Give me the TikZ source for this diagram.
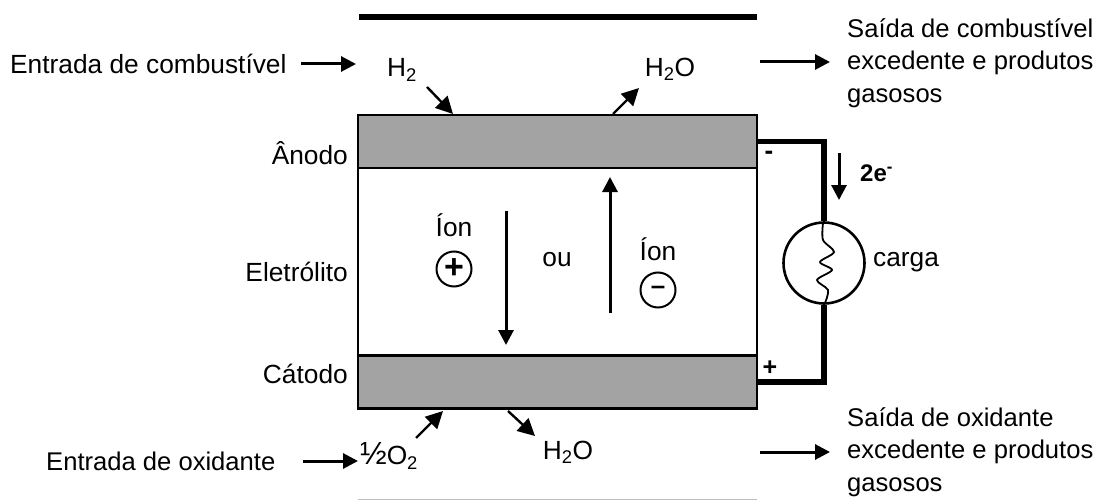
\documentclass[tikz,border=0pt]{standalone}
\usepackage{fontspec}
\setmainfont{Liberation Sans}
\usetikzlibrary{arrows.meta}
\colorlet{electrodecolor}{black!36}
\tikzset{
    label text/.style = {inner sep=0pt, font=\fontsize{26.3}{32}\selectfont},
    outlet text/.style = {inner sep=0pt, anchor=west, align=left, font=\fontsize{25.6}{32.5}\selectfont},
    bold text/.style = {inner sep=0pt, font=\fontsize{#1}{30}\selectfont\bfseries},
    flow/.style = {-{Triangle[length=15pt, width=15pt]}, line width=3pt},
    small flow/.style = {-{Triangle[length=17pt, width=17pt]}, line width=2.4pt},
    electrode/.style = {rectangle, draw, line width=2.2pt, fill=electrodecolor, minimum width=399, minimum height=53},
    wire/.style = {line width=5.5pt, line join=miter},
    ion/.style = {circle, draw, line width=2pt, minimum size=35, inner sep=0pt}
}

\begin{document}
\begin{tikzpicture}[x=1pt, y=-1pt]
        \useasboundingbox (0, 0) rectangle (1100, 500);
        % draw cell body
        \node[rectangle, draw, line width=2.2pt, minimum width=399, minimum height=293] (electrolyte) at (557.5, 262) {};
        \node[electrode] (anode) at (557.5, 141.5) {};
        \node[electrode] (cathode) at (557.5, 382) {};
        % draw plates above and below
        \coordinate (top a) at (359, 17);
        \coordinate (top b) at (757, 17);
        \coordinate (bottom a) at (358, 499);
        \coordinate (bottom b) at (757, 499);
        \draw[line width=5.5pt] (top a) -- (top b);
        \draw[black!25, line width=1pt] (bottom a) -- (bottom b);
        % draw left labels
        \foreach \y/\name/\ltext in {153/anodelabel/Ânodo, 272/electrolytelabel/Eletrólito, 374/cathodelabel/Cátodo}
            \node[label text, anchor=east] (\name) at (348, \y) {\ltext};
        % draw gas labels
        \node[label text, anchor=west] (fuelin) at (10, 64) {Entrada de combustível};
        \node[label text, anchor=west, font=\fontsize{25.6}{32}\selectfont] (oxin) at (46, 461) {Entrada de oxidante};
        \node[label text] (h2) at (402, 70) {H\textsubscript{2}};
        \node[label text] (h2o top) at (670, 69) {H\textsubscript{2}O};
        \node[label text] (h2o bottom) at (568, 452) {H\textsubscript{2}O};
        \node[label text] (o2) at (389, 456) {{\fontsize{32}{32}\selectfont ½}O\textsubscript{2}};
        % draw outlet labels
        \node[outlet text] (fuelout) at (847, 63)
            {Saída de combustível\\excedente e produtos\\gasosos};
        \node[outlet text] (oxout) at (847, 452)
            {Saída de oxidante\\excedente e produtos\\gasosos};
        % draw gas arrows
        \coordinate (fuel a) at (301, 64);
        \coordinate (fuel b) at (356, 64);
        \coordinate (ox a) at (303, 461);
        \coordinate (ox b) at (358, 461);
        \coordinate (fuelout a) at (760, 62);
        \coordinate (fuelout b) at (830, 62);
        \coordinate (oxout a) at (760, 452);
        \coordinate (oxout b) at (830, 452);
        \foreach \a/\b in {fuel a/fuel b, ox a/ox b, fuelout a/fuelout b, oxout a/oxout b}
            \draw[flow] (\a) -- (\b);
        \coordinate (h2 a) at (427, 87);
        \coordinate (h2 b) at (453, 114);
        \coordinate (h2o a) at (613, 114);
        \coordinate (h2o b) at (639, 88);
        \coordinate (o2 a) at (416, 438);
        \coordinate (o2 b) at (443, 411);
        \coordinate (water a) at (508, 411);
        \coordinate (water b) at (535, 436);
        \foreach \a/\b in {h2 a/h2 b, h2o a/h2o b, o2 a/o2 b, water a/water b}
            \draw[small flow] (\a) -- (\b);
        % draw ions
        \node[label text] (ion plus text) at (454, 225) {Íon};
        \node[ion, bold text=34] (ion plus) at (454, 269) {+};
        \node[label text] (ion minus text) at (658, 249) {Íon};
        \node[ion, bold text=26] (ion minus) at (658, 290) {--};
        \node[label text] (or) at (557, 260) {ou};
        \coordinate (down a) at (506, 211);
        \coordinate (down b) at (506, 345);
        \coordinate (up a) at (610, 313);
        \coordinate (up b) at (610, 177);
        \draw[flow] (down a) -- (down b);
        \draw[flow] (up a) -- (up b);
        % draw load and wires
        \node[circle, draw, line width=2.6pt, minimum size=81, inner sep=0pt] (load) at (824, 263) {};
        \draw[wire] (anode.east) -| (load.north);
        \draw[wire] (load.south) |- (cathode.east);
        \draw[line width=1.8pt] plot[smooth] coordinates {(823, 223) (823, 240) (834, 252) (820, 262) (832, 270) (817, 280) (828, 290) (825, 303)};
        \node[label text, anchor=west] (loadlabel) at (873, 262) {carga};
        % draw electron flow
        \coordinate (electron a) at (839, 153);
        \coordinate (electron b) at (839, 200);
        \draw[flow] (electron a) -- (electron b);
        \node[bold text=24, anchor=west] (electron) at (860, 173) {2e\textsuperscript{-}};
        \node[bold text=26] (minus) at (769, 155) {-};
        \node[bold text=25] (plus) at (770, 368) {+};
\end{tikzpicture}
\end{document}
